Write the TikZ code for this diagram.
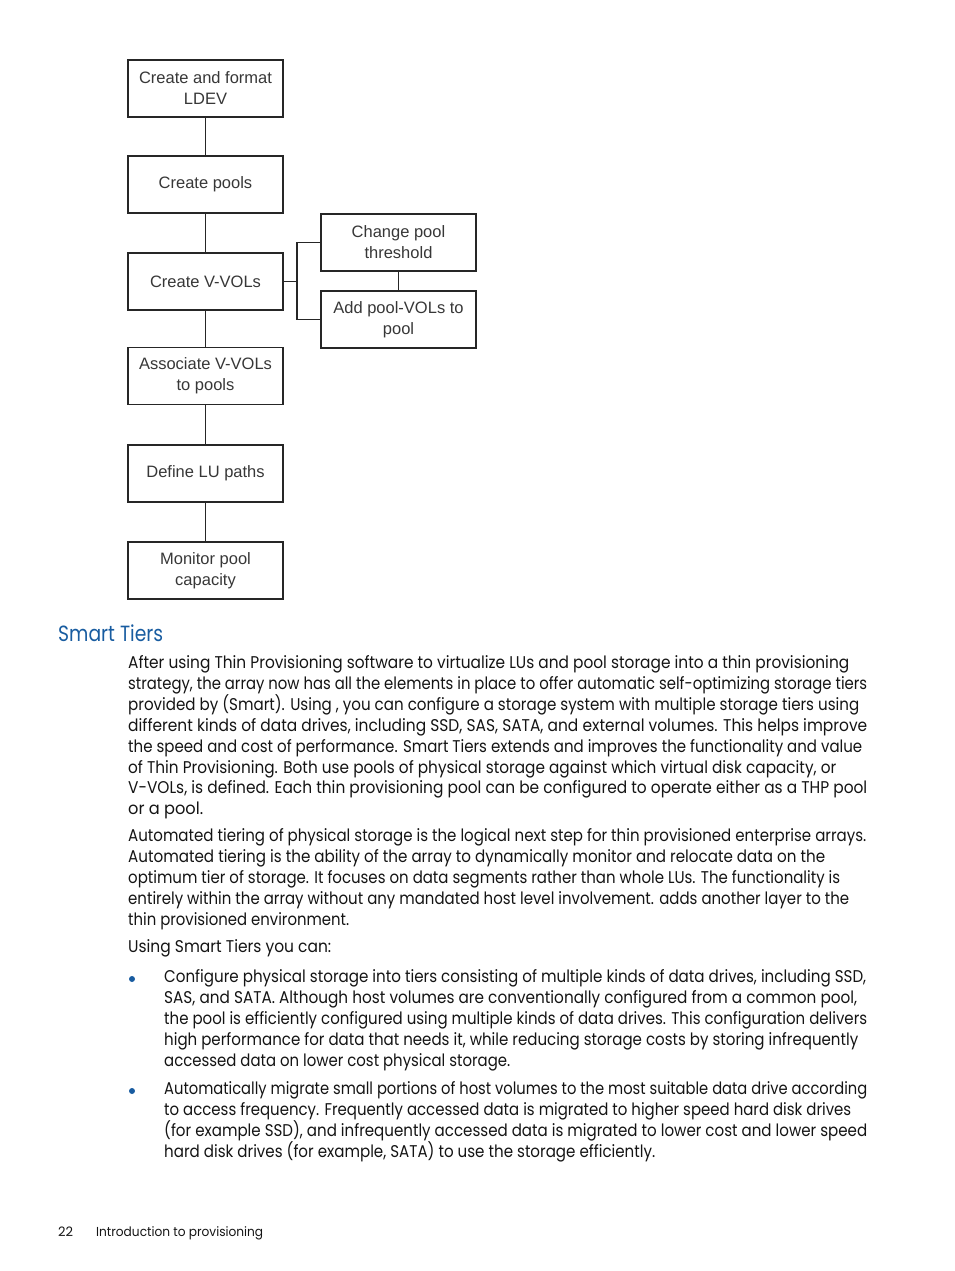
\documentclass[tikz,border=0pt]{standalone}
\usepackage{fontspec}
\usepackage{graphicx}
\setmainfont{Poppins}
\newfontfamily\boxfont{Liberation Sans}
\newfontfamily\bodyfont{Poppins}
\definecolor{hpblue}{RGB}{24,92,160}
\definecolor{boxtext}{RGB}{55,55,55}
\definecolor{bodytext}{RGB}{20,20,20}
\newcommand{\fl}[2]{\resizebox{#1pt}{\height}{#2}}
\tikzset{
  stepbox/.style={draw=black!85, line width=1.3pt, minimum width=155pt, minimum height=57pt,
    inner sep=0pt, align=center, text=boxtext, font=\boxfont\fontsize{16.5}{21}\selectfont},
  conn/.style={draw=black!85, line width=1.3pt},
  txt/.style={anchor=base west, inner sep=0pt, text=bodytext, font=\bodyfont\fontsize{17}{20}\selectfont},
  bul/.style={fill=hpblue, draw=none, circle, inner sep=0pt, minimum size=6pt}
}
\begin{document}
\begin{tikzpicture}[x=1pt,y=-1pt]
\useasboundingbox (0,0) rectangle (954,1271);
% flowchart
\node[stepbox] (n1) at (205.5,88.5) {Create and format\\LDEV};
\node[stepbox] (n2) at (205.5,184.5) {Create pools};
\node[stepbox] (n3) at (205.5,281.5) {Create V-VOLs};
\node[stepbox] (n4) at (205.5,376) {Associate V-VOLs\\to pools};
\node[stepbox] (n5) at (205.5,473.5) {Define LU paths};
\node[stepbox] (n6) at (205.5,570.5) {Monitor pool\\capacity};
\node[stepbox] (r1) at (398.5,242.5) {Change pool\\threshold};
\node[stepbox] (r2) at (398.5,319.5) {Add pool-VOLs to\\pool};
\draw[conn] (n1) -- (n2);
\draw[conn] (n2) -- (n3);
\draw[conn] (n3) -- (n4);
\draw[conn] (n4) -- (n5);
\draw[conn] (n5) -- (n6);
\draw[conn] (r1) -- (r2);
\coordinate (j) at (297,281.5);
\draw[conn] (n3.east) -- (j);
\draw[conn] (r1.west) -| (j) |- (r2.west);
% heading
\node[anchor=base west, inner sep=0pt, text=hpblue, font=\bodyfont\fontsize{22}{26}\selectfont] (h) at (58,641) {\fl{105}{Smart Tiers}};
% paragraph 1
\node[txt] (p1a) at (128,668) {\fl{721}{After using Thin Provisioning software to virtualize LUs and pool storage into a thin provisioning}};
\node[txt] (p1b) at (128,689) {\fl{739}{strategy, the array now has all the elements in place to offer automatic self-optimizing storage tiers}};
\node[txt] (p1c) at (128,710) {\fl{731}{provided by (Smart). Using , you can configure a storage system with multiple storage tiers using}};
\node[txt] (p1d) at (128,731) {\fl{739}{different kinds of data drives, including SSD, SAS, SATA, and external volumes. This helps improve}};
\node[txt] (p1e) at (128,752) {\fl{734}{the speed and cost of performance. Smart Tiers extends and improves the functionality and value}};
\node[txt] (p1f) at (128,773) {\fl{708}{of Thin Provisioning. Both use pools of physical storage against which virtual disk capacity, or}};
\node[txt] (p1g) at (128,793) {\fl{739}{V-VOLs, is defined. Each thin provisioning pool can be configured to operate either as a THP pool}};
\node[txt] (p1h) at (128,814) {\fl{75}{or a pool.}};
% paragraph 2
\node[txt] (p2a) at (128,841) {\fl{738}{Automated tiering of physical storage is the logical next step for thin provisioned enterprise arrays.}};
\node[txt] (p2b) at (128,862) {\fl{697}{Automated tiering is the ability of the array to dynamically monitor and relocate data on the}};
\node[txt] (p2c) at (128,883) {\fl{712}{optimum tier of storage. It focuses on data segments rather than whole LUs. The functionality is}};
\node[txt] (p2d) at (128,904) {\fl{721}{entirely within the array without any mandated host level involvement. adds another layer to the}};
\node[txt] (p2e) at (128,925) {\fl{221}{thin provisioned environment.}};
\node[txt] (p3) at (128,952) {\fl{203}{Using Smart Tiers you can:}};
% bullet 1
\node[bul] (b1) at (132,979) {};
\node[txt] (b1a) at (164,982) {\fl{702}{Configure physical storage into tiers consisting of multiple kinds of data drives, including SSD,}};
\node[txt] (b1b) at (164,1003) {\fl{693}{SAS, and SATA. Although host volumes are conventionally configured from a common pool,}};
\node[txt] (b1c) at (164,1024) {\fl{703}{the pool is efficiently configured using multiple kinds of data drives. This configuration delivers}};
\node[txt] (b1d) at (164,1045) {\fl{694}{high performance for data that needs it, while reducing storage costs by storing infrequently}};
\node[txt] (b1e) at (164,1066) {\fl{346}{accessed data on lower cost physical storage.}};
% bullet 2
\node[bul] (b2) at (132,1091) {};
\node[txt] (b2a) at (164,1094) {\fl{703}{Automatically migrate small portions of host volumes to the most suitable data drive according}};
\node[txt] (b2b) at (164,1115) {\fl{687}{to access frequency. Frequently accessed data is migrated to higher speed hard disk drives}};
\node[txt] (b2c) at (164,1136) {\fl{703}{(for example SSD), and infrequently accessed data is migrated to lower cost and lower speed}};
\node[txt] (b2d) at (164,1157) {\fl{491}{hard disk drives (for example, SATA) to use the storage efficiently.}};
% footer
\node[anchor=base west, inner sep=0pt, text=bodytext, font=\bodyfont\fontsize{13}{16}\selectfont] (f1) at (58,1236) {22};
\node[anchor=base west, inner sep=0pt, text=bodytext, font=\bodyfont\fontsize{13}{16}\selectfont] (f2) at (96,1236) {\fl{167}{Introduction to provisioning}};
\end{tikzpicture}
\end{document}
